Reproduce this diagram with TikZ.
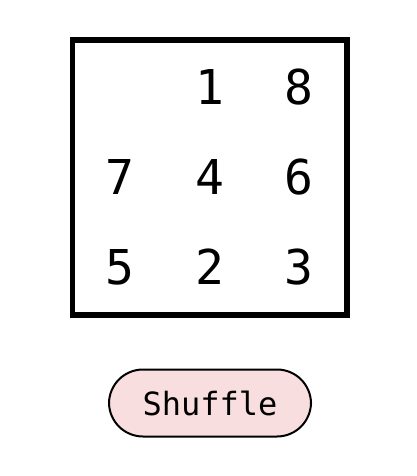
\documentclass[tikz,border=0pt]{standalone}
\usepackage{fontspec}
\setmonofont{DejaVu Sans Mono}
\definecolor{btnpink}{HTML}{F8DEDE}
\tikzset{
  tile/.style={font=\fontsize{48}{48}\selectfont\ttfamily, text=black, inner sep=0pt, anchor=center},
  board/.style={draw=black, line width=5.5pt, fill=white},
  btn/.style={draw=black, line width=2pt, fill=btnpink, rounded corners=34pt, minimum width=202pt, minimum height=67pt, font=\fontsize{32}{32}\selectfont\ttfamily, inner sep=0pt}
}
\begin{document}
\begin{tikzpicture}[x=1pt,y=-1pt]
\useasboundingbox (0,0) rectangle (416,476);
\draw[board] (72.5,40) rectangle (347,315);
\node[tile] (t2) at (209.5,87) {1};
\node[tile] (t3) at (299,87) {8};
\node[tile] (t4) at (120,177) {7};
\node[tile] (t5) at (209.5,177) {4};
\node[tile] (t6) at (299,177) {6};
\node[tile] (t7) at (120,267) {5};
\node[tile] (t8) at (209.5,267) {2};
\node[tile] (t9) at (299,267) {3};
\node[btn] (shuffle) at (210,403) {Shuffle};
\end{tikzpicture}
\end{document}
